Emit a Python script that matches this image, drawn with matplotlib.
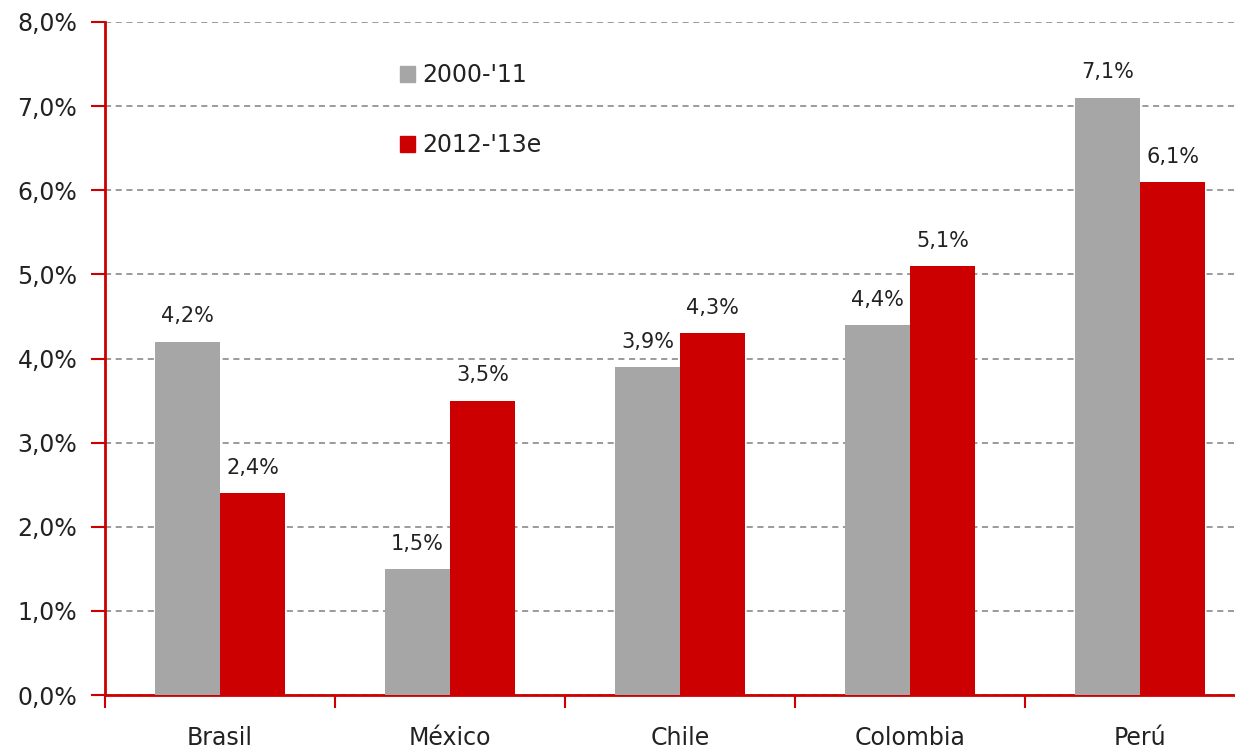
import matplotlib.pyplot as plt
import numpy as np
from matplotlib.patches import Patch

countries = ['Brasil', 'México', 'Chile', 'Colombia', 'Perú']
s2000_11 = [4.2, 1.5, 3.9, 4.4, 7.1]
s2012_13 = [2.4, 3.5, 4.3, 5.1, 6.1]
series_names = ["2000-'11", "2012-'13e"]

red = '#CC0000'
grey = '#A6A6A6'

plt.rcParams['font.family'] = ['DejaVu Sans']

fig = plt.figure(figsize=(12.35, 7.51), dpi=100)
W, H = 1235, 751
ax = fig.add_axes([105 / W, (H - 695) / H, 1150 / W, (695 - 22) / H])

x = np.arange(len(countries))
bw = 0.283
b1 = ax.bar(x - bw / 2, s2000_11, bw, color=grey, zorder=3)
b2 = ax.bar(x + bw / 2, s2012_13, bw, color=red, zorder=3)

for bars in (b1, b2):
    for r in bars:
        ax.annotate(f'{r.get_height():.1f}%'.replace('.', ','),
                    (r.get_x() + r.get_width() / 2, r.get_height()),
                    xytext=(0, 11), textcoords='offset points',
                    ha='center', va='bottom', fontsize=15, color='#222222')

ax.set_xlim(-0.5, 4.5)
ax.set_ylim(0, 8)
ax.set_yticks(np.arange(0, 9, 1))
ax.set_yticklabels([f'{v:.1f}%'.replace('.', ',') for v in range(9)],
                   fontsize=17, color='#222222')
ax.yaxis.grid(True, linestyle='--', color='#808080', linewidth=1.1, dashes=(4, 3))
ax.set_axisbelow(True)

ax.set_xticks(x)
ax.set_xticklabels(countries, fontsize=17, color='#222222')
ax.set_xticks(np.arange(-0.5, 4.6, 1), minor=True)
ax.tick_params(axis='x', which='major', length=0, pad=22)
ax.tick_params(axis='x', which='minor', length=9, width=1.5, color=red, direction='out')
ax.tick_params(axis='y', length=10, width=1.5, color=red, direction='out', pad=10)

for s in ['top', 'right']:
    ax.spines[s].set_visible(False)
for s in ['left', 'bottom']:
    ax.spines[s].set_color(red)
    ax.spines[s].set_linewidth(2)

handles = [Patch(color=grey), Patch(color=red)]
leg = ax.legend(handles, series_names, loc='upper left', bbox_to_anchor=(0.238, 0.97),
                frameon=False, fontsize=17, handlelength=0.65, handleheight=0.65,
                handletextpad=0.3, labelspacing=1.95)
for t in leg.get_texts():
    t.set_color('#222222')

fig.savefig('out.png', dpi=100)
